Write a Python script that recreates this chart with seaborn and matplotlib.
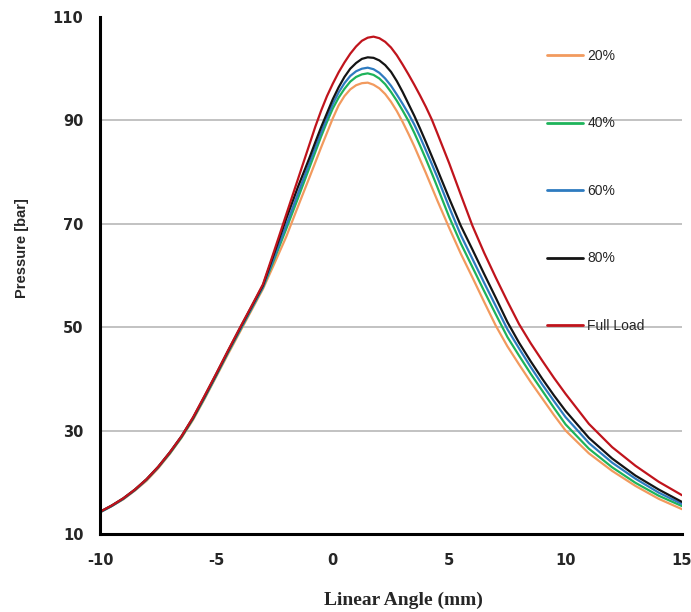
import numpy as np
import pandas as pd
import matplotlib
matplotlib.use("Agg")
import matplotlib.pyplot as plt
import seaborn as sns

x_vals = [-10, -9.5, -9, -8.5, -8, -7.5, -7, -6.5, -6, -5.5, -5, -4.5, -4, -3.5, -3,
          -2.5, -2, -1.5,
          -1, -0.75, -0.5, -0.25, 0, 0.25, 0.5, 0.75, 1, 1.25, 1.5, 1.75, 2, 2.25, 2.5, 2.75,
          3, 3.25, 3.5, 3.75, 4, 4.25, 4.5,
          5, 5.5, 6, 6.5, 7, 7.5, 8, 8.5, 9, 9.5, 10,
          11, 12, 13, 14, 15]

load_20 = [14.2, 15.4, 16.7, 18.4, 20.3, 22.7, 25.5, 28.6, 32.1, 36.2, 40.5, 44.8, 49.0, 53.2, 57.4,
           62.4, 67.5, 73.3,
           79.0, 81.9, 84.8, 87.6, 90.4, 92.9, 94.7, 96.0, 96.8, 97.2, 97.3, 96.9, 96.2, 95.1, 93.6, 91.8,
           89.7, 87.4, 85.0, 82.4, 79.8, 77.1, 74.4,
           69.2, 64.2, 59.6, 54.9, 50.3, 46.3, 42.8, 39.4, 36.2, 33.0, 30.0,
           25.6, 22.2, 19.3, 16.8, 14.8]
load_40 = [14.2, 15.4, 16.8, 18.5, 20.5, 22.9, 25.6, 28.7, 32.3, 36.4, 40.7, 45.1, 49.3, 53.5, 57.7,
           63.3, 69.0, 74.9,
           80.9, 83.9, 86.9, 89.7, 92.3, 94.4, 96.1, 97.5, 98.4, 98.9, 99.1, 98.8, 98.1, 97.0, 95.5, 93.8,
           91.9, 89.9, 87.6, 85.1, 82.5, 79.8, 77.0,
           71.3, 66.2, 61.6, 57.0, 52.5, 48.1, 44.5, 41.0, 37.7, 34.4, 31.2,
           26.5, 22.9, 19.9, 17.4, 15.4]
load_60 = [14.2, 15.4, 16.8, 18.5, 20.5, 22.9, 25.7, 28.8, 32.4, 36.5, 40.8, 45.2, 49.4, 53.6, 57.8,
           63.7, 69.7, 75.8,
           81.8, 84.8, 87.7, 90.5, 93.2, 95.4, 97.2, 98.6, 99.5, 100.0, 100.2, 99.9, 99.2, 98.1, 96.7, 95.0,
           93.2, 91.3, 89.2, 86.8, 84.2, 81.6, 78.9,
           73.2, 67.8, 63.2, 58.6, 54.1, 49.6, 45.9, 42.3, 38.9, 35.7, 32.6,
           27.6, 23.8, 20.7, 18.0, 15.8]
load_80 = [14.3, 15.5, 16.9, 18.6, 20.6, 23.0, 25.8, 28.9, 32.5, 36.7, 41.0, 45.4, 49.7, 53.9, 58.1,
           64.5, 71.0, 77.1,
           82.8, 85.8, 88.7, 91.4, 94.1, 96.4, 98.4, 100.0, 101.1, 101.9, 102.2, 102.1, 101.6, 100.7, 99.4, 97.6,
           95.5, 93.2, 90.9, 88.4, 85.8, 83.1, 80.4,
           74.9, 69.6, 65.0, 60.3, 55.7, 51.0, 47.0, 43.4, 40.0, 36.8, 33.8,
           28.6, 24.6, 21.3, 18.6, 16.2]
load_full = [14.3, 15.5, 16.9, 18.6, 20.6, 23.0, 25.8, 28.9, 32.6, 36.8, 41.1, 45.5, 49.8, 54.0, 58.3,
             65.0, 71.8, 78.6,
             85.4, 88.8, 91.9, 94.7, 97.1, 99.3, 101.2, 102.9, 104.3, 105.4, 106.0, 106.2, 105.9, 105.2, 104.1, 102.6,
             100.8, 98.9, 96.9, 94.8, 92.6, 90.2, 87.4,
             81.7, 75.6, 69.6, 64.4, 59.6, 55.0, 50.6, 46.9, 43.5, 40.2, 37.1,
             31.3, 26.8, 23.2, 20.1, 17.5]

series_names = ["20%", "40%", "60%", "80%", "Full Load"]
series_colors = ["#F29A5E", "#1DB35A", "#2E7BC0", "#141414", "#C0141C"]
x_ticks = [-10, -5, 0, 5, 10, 15]
y_ticks = [10, 30, 50, 70, 90, 110]

frames = []
for name, vals in zip(series_names, [load_20, load_40, load_60, load_80, load_full]):
    frames.append(pd.DataFrame({"x": x_vals, "y": vals, "series": name}))
df = pd.concat(frames, ignore_index=True)

sns.set_style("white")
fig = plt.figure(figsize=(6.91, 6.12), dpi=100)
ax = fig.add_axes([100 / 691, 1 - 534 / 612, 582 / 691, 517 / 612])

for y in [30, 50, 70, 90]:
    ax.axhline(y, color="#BDBDBD", lw=1.3, zorder=0)

sns.lineplot(data=df, x="x", y="y", hue="series", hue_order=series_names,
             palette=dict(zip(series_names, series_colors)), linewidth=1.6,
             ax=ax, legend=True)
for line in ax.get_lines():
    line.set_solid_joinstyle("round")

ax.set_xlim(-10, 15)
ax.set_ylim(10, 110)
ax.set_xticks(x_ticks)
ax.set_yticks(y_ticks)
ax.set_xticklabels([str(t) for t in x_ticks], fontsize=10.5, fontweight="bold", family="DejaVu Sans")
ax.set_yticklabels([str(t) for t in y_ticks], fontsize=10.5, fontweight="bold", family="DejaVu Sans")
ax.tick_params(axis="both", length=0)
ax.tick_params(axis="x", pad=14)
ax.tick_params(axis="y", pad=12)

for s in ["top", "right"]:
    ax.spines[s].set_visible(False)
for s in ["left", "bottom"]:
    ax.spines[s].set_color("black")
    ax.spines[s].set_linewidth(2.2)

ax.set_xlabel("Linear Angle (mm)", fontsize=14, fontweight="bold", family="Liberation Serif")
ax.xaxis.set_label_coords((403 - 100) / 582, -(600 - 534) / 517)
ax.xaxis.label.set_verticalalignment("center")
ax.set_ylabel("Pressure [bar]", fontsize=10.5, fontweight="bold", family="Liberation Sans")
ax.yaxis.set_label_coords(-(100 - 22) / 582, 1 - (248 - 17) / 517)
ax.yaxis.label.set_verticalalignment("center")

handles, labels = ax.get_legend_handles_labels()
leg = ax.legend(handles, labels, loc="upper left", bbox_to_anchor=(547 / 691, 1 - 49 / 612),
                bbox_transform=fig.transFigure, frameon=False, borderpad=0, borderaxespad=0,
                labelspacing=3.85, handlelength=2.6, handletextpad=0.3,
                prop={"family": "Liberation Sans", "size": 10})
for line in leg.get_lines():
    line.set_linewidth(2.0)

fig.savefig("out.png", dpi=100)
